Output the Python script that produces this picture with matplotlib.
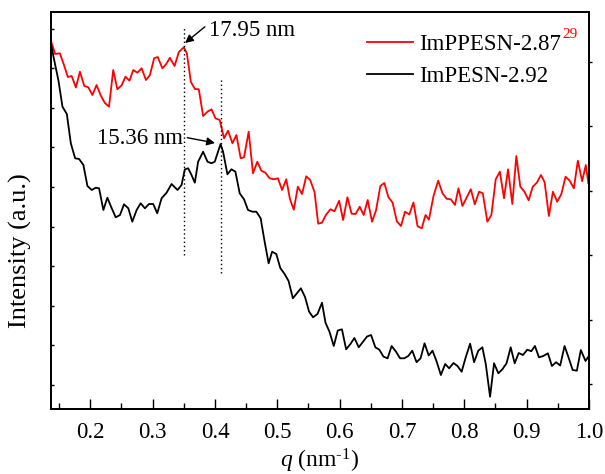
import numpy as np
import matplotlib
matplotlib.use("Agg")
import matplotlib.pyplot as plt

plt.rcParams['font.family'] = ['Liberation Serif', 'DejaVu Serif']
plt.rcParams['mathtext.fontset'] = 'custom'
plt.rcParams['mathtext.rm'] = 'Liberation Serif'
plt.rcParams['mathtext.it'] = 'Liberation Serif:italic'

# SAXS profiles, intensity in arbitrary units
q_black = [0.1368, 0.1421, 0.1490, 0.1554, 0.1624, 0.1688, 0.1757, 0.1821, 0.1890, 0.1954,
           0.2024, 0.2088, 0.2141, 0.2210, 0.2274, 0.2344, 0.2408, 0.2477, 0.2541, 0.2610,
           0.2674, 0.2744, 0.2808, 0.2877, 0.2941, 0.3010, 0.3074, 0.3144, 0.3224, 0.3304,
           0.3346, 0.3400, 0.3464, 0.3517, 0.3570, 0.3624, 0.3677, 0.3730, 0.3810, 0.3880,
           0.3944, 0.3997, 0.4090, 0.4130, 0.4200, 0.4264, 0.4328, 0.4397, 0.4466, 0.4530,
           0.4600, 0.4664, 0.4733, 0.4797, 0.4861, 0.4917, 0.4984, 0.5048, 0.5117, 0.5181,
           0.5250, 0.5314, 0.5378, 0.5445, 0.5509, 0.5573, 0.5645, 0.5717, 0.5773, 0.5837,
           0.5906, 0.5970, 0.6037, 0.6104, 0.6173, 0.6237, 0.6306, 0.6376, 0.6440, 0.6504,
           0.6573, 0.6637, 0.6704, 0.6770, 0.6834, 0.6904, 0.6970, 0.7037, 0.7101, 0.7165,
           0.7234, 0.7298, 0.7362, 0.7429, 0.7490, 0.7557, 0.7624, 0.7693, 0.7757, 0.7826,
           0.7890, 0.7957, 0.8024, 0.8093, 0.8157, 0.8224, 0.8290, 0.8344, 0.8413, 0.8477,
           0.8546, 0.8610, 0.8677, 0.8744, 0.8808, 0.8872, 0.8941, 0.9010, 0.9074, 0.9133,
           0.9197, 0.9266, 0.9341, 0.9405, 0.9472, 0.9538, 0.9608, 0.9672, 0.9738, 0.9805,
           0.9869, 0.9944, 0.9986]
i_black = [365.7, 349.0, 328.3, 302.3, 295.0, 265.7, 250.7, 250.0, 244.0, 223.0,
           219.0, 221.3, 220.7, 199.0, 211.3, 200.7, 191.7, 194.0, 204.7, 200.7,
           187.3, 199.0, 205.7, 200.7, 205.0, 205.0, 195.7, 210.7, 216.3, 225.0,
           222.3, 219.0, 224.0, 239.7, 240.7, 234.0, 226.3, 247.3, 257.3, 247.3,
           245.7, 247.3, 265.0, 257.3, 234.7, 239.7, 237.3, 215.7, 209.7, 199.0,
           197.3, 197.3, 190.7, 167.3, 145.7, 157.3, 155.0, 141.0, 135.0, 128.0,
           110.7, 115.7, 120.7, 112.0, 97.5, 91.7, 95.0, 106.3, 86.3, 77.3,
           63.0, 78.5, 79.7, 59.7, 65.0, 71.0, 61.7, 67.3, 72.5, 74.0,
           61.7, 59.3, 52.3, 50.7, 63.0, 57.3, 50.7, 50.7, 53.0, 58.3,
           46.8, 50.7, 65.7, 53.5, 58.3, 47.3, 34.0, 45.0, 40.7, 46.0,
           43.0, 37.3, 52.0, 65.3, 46.8, 58.3, 61.7, 45.0, 12.3, 45.7,
           35.7, 39.7, 45.7, 61.7, 45.7, 56.0, 54.0, 59.3, 57.8, 63.0,
           51.7, 53.0, 55.7, 43.0, 46.8, 43.5, 63.0, 51.5, 39.0, 38.3,
           59.0, 48.0, 52.0]

q_red = [0.1373, 0.1437, 0.1512, 0.1573, 0.1640, 0.1701, 0.1770, 0.1834, 0.1904, 0.1968,
         0.2034, 0.2101, 0.2168, 0.2234, 0.2301, 0.2368, 0.2434, 0.2501, 0.2565, 0.2629,
         0.2690, 0.2754, 0.2824, 0.2893, 0.2957, 0.3024, 0.3082, 0.3157, 0.3218, 0.3277,
         0.3352, 0.3421, 0.3500, 0.3549, 0.3613, 0.3677, 0.3741, 0.3810, 0.3880, 0.3944,
         0.4008, 0.4077, 0.4146, 0.4210, 0.4280, 0.4344, 0.4413, 0.4466, 0.4541, 0.4610,
         0.4680, 0.4744, 0.4808, 0.4877, 0.4946, 0.5010, 0.5077, 0.5144, 0.5202, 0.5264,
         0.5330, 0.5397, 0.5464, 0.5528, 0.5597, 0.5656, 0.5717, 0.5784, 0.5853, 0.5917,
         0.5992, 0.6056, 0.6125, 0.6192, 0.6256, 0.6322, 0.6386, 0.6450, 0.6520, 0.6584,
         0.6653, 0.6717, 0.6781, 0.6850, 0.6917, 0.6984, 0.7048, 0.7117, 0.7184, 0.7250,
         0.7317, 0.7378, 0.7432, 0.7506, 0.7581, 0.7650, 0.7717, 0.7784, 0.7850, 0.7906,
         0.7970, 0.8037, 0.8104, 0.8168, 0.8237, 0.8296, 0.8370, 0.8434, 0.8504, 0.8570,
         0.8637, 0.8701, 0.8770, 0.8834, 0.8898, 0.8965, 0.9032, 0.9096, 0.9165, 0.9229,
         0.9288, 0.9357, 0.9421, 0.9490, 0.9557, 0.9624, 0.9690, 0.9757, 0.9821, 0.9890,
         0.9949, 0.9989]
i_red = [367.3, 355.0, 355.7, 345.0, 332.0, 333.0, 321.5, 337.3, 323.0, 321.7,
         314.0, 324.0, 313.5, 306.0, 302.3, 339.0, 319.8, 323.5, 332.3, 328.3,
         339.0, 336.3, 340.7, 329.0, 334.0, 350.7, 352.0, 340.7, 345.0, 351.2,
         343.0, 357.0, 361.7, 355.7, 327.3, 320.0, 319.7, 293.0, 297.3, 299.7,
         290.7, 289.0, 270.7, 278.3, 265.7, 274.0, 250.7, 251.7, 277.3, 235.7,
         247.3, 238.3, 236.3, 230.7, 229.7, 230.7, 219.0, 229.7, 210.2, 199.3,
         222.3, 215.0, 232.7, 229.0, 217.0, 185.3, 186.3, 194.5, 199.7, 197.7,
         208.2, 189.0, 211.7, 195.3, 195.0, 202.3, 194.0, 209.0, 187.3, 198.7,
         223.0, 226.0, 212.0, 206.3, 187.7, 183.0, 197.3, 194.5, 206.5, 182.7,
         180.7, 194.0, 189.3, 213.0, 228.3, 215.7, 210.2, 209.7, 204.0, 220.7,
         203.0, 211.5, 219.8, 204.7, 217.3, 215.7, 187.3, 194.0, 229.7, 237.3,
         210.7, 239.7, 205.0, 253.0, 222.3, 217.3, 208.7, 222.0, 226.5, 234.0,
         226.8, 193.0, 217.3, 207.3, 215.0, 232.3, 228.3, 220.7, 248.3, 227.8,
         244.0, 226.0]

# d-spacings marked on the plot
d_red = 17.95
d_black = 15.36
q_peak_red = 2 * np.pi / d_red
q_peak_black = 2 * np.pi / d_black

fig = plt.figure(figsize=(6.05, 4.74), dpi=100)
ax = fig.add_axes([51 / 605, 1 - 409 / 474, 538 / 605, 397 / 474])

ax.plot(q_red, i_red, color='#ff0000', lw=1.3, label='ImPPESN-2.87')
ax.plot(q_black, i_black, color='black', lw=1.3, label='ImPESN-2.92')

ax.vlines(q_peak_red, 154, 381, colors='black', linestyles=(0, (1, 2)), lw=1)
ax.vlines(q_peak_black, 136, 331, colors='black', linestyles=(0, (1, 2)), lw=1)

ax.annotate(f'{d_red:.2f} nm', xy=(q_peak_red + 0.002, 366), xytext=(0.390, 378),
            ha='left', va='center', fontsize=16.5,
            arrowprops=dict(arrowstyle='-|>', color='black', lw=1, mutation_scale=12,
                            shrinkA=1, shrinkB=0, relpos=(0, 0.85)))
ax.annotate(f'{d_black:.2f} nm', xy=(q_peak_black - 0.009, 266), xytext=(0.349, 270),
            ha='right', va='center', fontsize=16.5,
            arrowprops=dict(arrowstyle='-|>', color='black', lw=1, mutation_scale=12,
                            shrinkA=1, shrinkB=0, relpos=(1, 0.6)))

ax.set_xlim(0.137, 1.0)
ax.set_ylim(0, 397)
ax.set_xticks(np.arange(0.2, 1.01, 0.1))
ax.set_xticks(np.arange(0.15, 1.0, 0.1), minor=True)
ax.set_xticklabels([f'{v:.1f}' for v in np.arange(0.2, 1.01, 0.1)])
ax.set_yticks(np.arange(24, 397, 39.6))
ax.set_yticklabels([])
ax.tick_params(axis='x', which='major', direction='in', length=7.5, width=1, labelsize=16.5, pad=9)
ax.tick_params(axis='x', which='minor', direction='in', length=4.3, width=1)
ax.tick_params(axis='y', direction='in', length=2.5, width=1)

ax2 = ax.twinx()
ax2.set_ylim(0, 397)
ax2.set_yticks(np.arange(25, 397, 64.5))
ax2.set_yticklabels([])
ax2.tick_params(axis='y', direction='out', length=2.5, width=1)

for a in (ax, ax2):
    for s in a.spines.values():
        s.set_linewidth(1.3)

ax.set_xlabel(r'$q$ (nm$^{\text{-}1}$)', fontsize=17, labelpad=3)
ax.set_ylabel('Intensity (a.u.)', fontsize=19)
ax.yaxis.set_label_coords(-0.035, 0.40)

leg = ax.legend(loc='upper left', bbox_to_anchor=(0.587, 0.945), frameon=False, fontsize=16.5,
                handlelength=2.0, handletextpad=0.3, labelspacing=0.5,
                borderpad=0, borderaxespad=0)
# reference number after the first legend entry
ax2.annotate('29', xy=(1, 1), xycoords=leg.get_texts()[0], xytext=(0.5, 4),
             textcoords='offset points', color='#ff0000', fontsize=11,
             ha='left', va='top', zorder=10)

fig.savefig('out.png', dpi=100)
